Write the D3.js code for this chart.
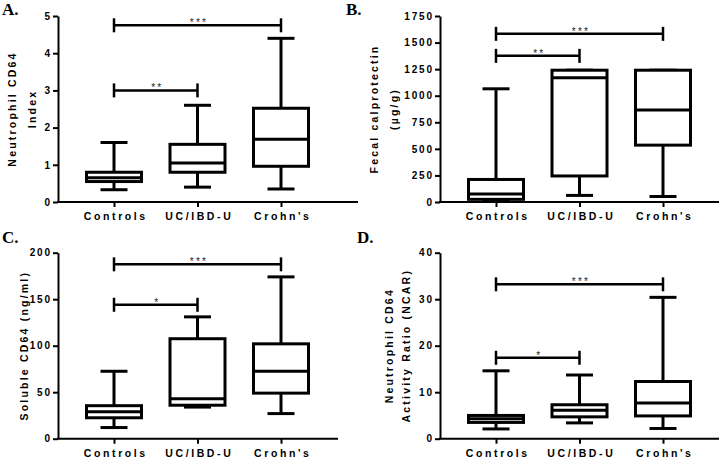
<!DOCTYPE html>
<html>
<head>
<meta charset="utf-8">
<script src="https://cdn.jsdelivr.net/npm/d3@7"></script>
<style>
body { margin: 0; background: #fff; }
svg { display: block; }
</style>
</head>
<body>
<script>
// groups
var categories = ["Controls", "UC/IBD-U", "Crohn's"];

// box stats per group: [min, q1, median, q3, max]
var cd64Index = [[0.33, 0.55, 0.65, 0.80, 1.60], [0.40, 0.80, 1.05, 1.55, 2.60], [0.35, 0.96, 1.69, 2.52, 4.40]];
var calprotectin = [[15, 25, 75, 212, 1065], [62, 245, 1170, 1240, 1240], [52, 535, 865, 1240, 1240]];
var solubleCd64 = [[12, 22.5, 29, 35.5, 72.5], [34, 36, 43, 107.5, 131], [27, 49, 72.5, 102, 174]];
var ncar = [[2.1, 3.5, 4.3, 5.0, 14.6], [3.4, 4.7, 6.1, 7.3, 13.7], [2.2, 4.9, 7.7, 12.3, 30.4]];

// y tick labels
var cd64IndexTicks = [0, 1, 2, 3, 4, 5];
var calprotectinTicks = [0, 250, 500, 750, 1000, 1250, 1500, 1750];
var solubleCd64Ticks = [0, 50, 100, 150, 200];
var ncarTicks = [0, 10, 20, 30, 40];

// significance bars: [from group, to group, y value, stars]
var cd64IndexSig = [[0, 1, 3.0, "**"], [0, 2, 4.75, "***"]];
var calprotectinSig = [[0, 1, 1375, "**"], [0, 2, 1582, "***"]];
var solubleCd64Sig = [[0, 1, 144, "*"], [0, 2, 187.5, "***"]];
var ncarSig = [[0, 1, 17.4, "*"], [0, 2, 33.2, "***"]];

var W = 722, H = 460;
var box_width = 55, cap_width = 27, sig_tick = 7;
var font = "'Liberation Sans', Arial, sans-serif";

var svg = d3.select("body").append("svg")
    .attr("width", W)
    .attr("height", H);

var panels = [
    {tag: "A.", tagX: 2, tagY: 15, data: cd64Index, ticks: cd64IndexTicks, sig: cd64IndexSig,
     x0: 58, x1: 358, yTop: 16, yBot: 202, title: ["Neutrophil CD64", "Index"], titleX: [12, 32]},
    {tag: "B.", tagX: 346, tagY: 15, data: calprotectin, ticks: calprotectinTicks, sig: calprotectinSig,
     x0: 440, x1: 719, yTop: 16, yBot: 202, title: ["Fecal calprotectin", "(\u00b5g/g)"], titleX: [374, 394]},
    {tag: "C.", tagX: 2, tagY: 243, data: solubleCd64, ticks: solubleCd64Ticks, sig: solubleCd64Sig,
     x0: 58, x1: 338, yTop: 252.7, yBot: 438.7, title: ["Soluble CD64 (ng/ml)"], titleX: [24]},
    {tag: "D.", tagX: 357, tagY: 243, data: ncar, ticks: ncarTicks, sig: ncarSig,
     x0: 440, x1: 719, yTop: 252.7, yBot: 438.7, title: ["Neutrophil CD64", "Activity  Ratio (NCAR)"], titleX: [389, 406]}
];

panels.forEach(drawPanel);

function drawPanel(p) {
    var g = svg.append("g");

    var y = d3.scaleLinear()
        .domain([0, d3.max(p.ticks)])
        .range([p.yBot, p.yTop]);
    var x = d3.scalePoint()
        .domain(categories)
        .range([p.x0 + 56, p.x0 + 223]);

    // y axis
    var ya = g.append("g")
        .attr("transform", "translate(" + p.x0 + ",0)")
        .call(d3.axisLeft(y).tickValues(p.ticks).tickFormat(d3.format("d"))
            .tickSize(5).tickSizeOuter(0).tickPadding(3));
    ya.select(".domain").attr("stroke-width", 2);
    ya.selectAll(".tick line").attr("stroke-width", 2);
    ya.selectAll(".tick text")
        .style("font-family", font)
        .style("font-weight", "bold")
        .style("font-size", "10px")
        .style("letter-spacing", "1.8px")
        .attr("dx", "1.8px")
        .attr("fill", "#000");

    // x axis
    g.append("line")
        .attr("x1", p.x0 - 1)
        .attr("x2", p.x1)
        .attr("y1", p.yBot)
        .attr("y2", p.yBot)
        .style("stroke", "black")
        .style("stroke-width", 2);
    var xa = g.append("g")
        .attr("transform", "translate(0," + p.yBot + ")")
        .call(d3.axisBottom(x).tickSize(5).tickPadding(6));
    xa.select(".domain").remove();
    xa.selectAll(".tick line").attr("stroke-width", 2);
    xa.selectAll(".tick text")
        .style("font-family", font)
        .style("font-weight", "bold")
        .style("font-size", "10.5px")
        .style("letter-spacing", "2.6px")
        .attr("dx", "1.3px")
        .attr("fill", "#000");

    // boxes
    p.data.forEach(function (d, i) {
        var cx = x(categories[i]);
        var b = g.append("g")
            .style("stroke", "black")
            .style("stroke-width", 3)
            .style("fill", "none");
        // whiskers
        b.append("line")
            .attr("x1", cx).attr("x2", cx)
            .attr("y1", y(d[0])).attr("y2", y(d[1]));
        b.append("line")
            .attr("x1", cx).attr("x2", cx)
            .attr("y1", y(d[3])).attr("y2", y(d[4]));
        [d[0], d[4]].forEach(function (v) {
            b.append("line")
                .attr("x1", cx - cap_width / 2).attr("x2", cx + cap_width / 2)
                .attr("y1", y(v)).attr("y2", y(v));
        });
        b.append("rect")
            .attr("x", cx - box_width / 2)
            .attr("y", y(d[3]))
            .attr("width", box_width)
            .attr("height", y(d[1]) - y(d[3]))
            .style("fill", "white");
        b.append("line")
            .attr("x1", cx - box_width / 2).attr("x2", cx + box_width / 2)
            .attr("y1", y(d[2])).attr("y2", y(d[2]));
    });

    // significance bars
    p.sig.forEach(function (s) {
        var xa1 = x(categories[s[0]]), xa2 = x(categories[s[1]]), yy = y(s[2]);
        var sg = g.append("g")
            .style("stroke", "black")
            .style("stroke-width", 2.5);
        sg.append("line").attr("x1", xa1).attr("x2", xa2).attr("y1", yy).attr("y2", yy);
        sg.append("line").attr("x1", xa1).attr("x2", xa1).attr("y1", yy - sig_tick).attr("y2", yy + sig_tick);
        sg.append("line").attr("x1", xa2).attr("x2", xa2).attr("y1", yy - sig_tick).attr("y2", yy + sig_tick);
        g.append("text")
            .attr("x", (xa1 + xa2) / 2 + 1.5)
            .attr("y", yy + 1)
            .attr("text-anchor", "middle")
            .style("font-family", font)
            .style("font-size", "10px")
            .style("letter-spacing", "2.2px")
            .style("fill", "#222")
            .text(s[3]);
    });

    // y title
    var cy = (p.yTop + p.yBot) / 2;
    p.title.forEach(function (t, k) {
        g.append("text")
            .attr("transform", "translate(" + p.titleX[k] + "," + cy + ") rotate(-90)")
            .attr("text-anchor", "middle")
            .attr("dy", "0.35em")
            .style("font-family", font)
            .style("font-weight", "bold")
            .style("font-size", "10.5px")
            .style("letter-spacing", "2.2px")
            .text(t);
    });

    // panel tag
    g.append("text")
        .attr("x", p.tagX)
        .attr("y", p.tagY)
        .style("font-family", "'Liberation Serif', 'Times New Roman', serif")
        .style("font-weight", "bold")
        .style("font-size", "17px")
        .text(p.tag);
}
</script>
</body>
</html>
